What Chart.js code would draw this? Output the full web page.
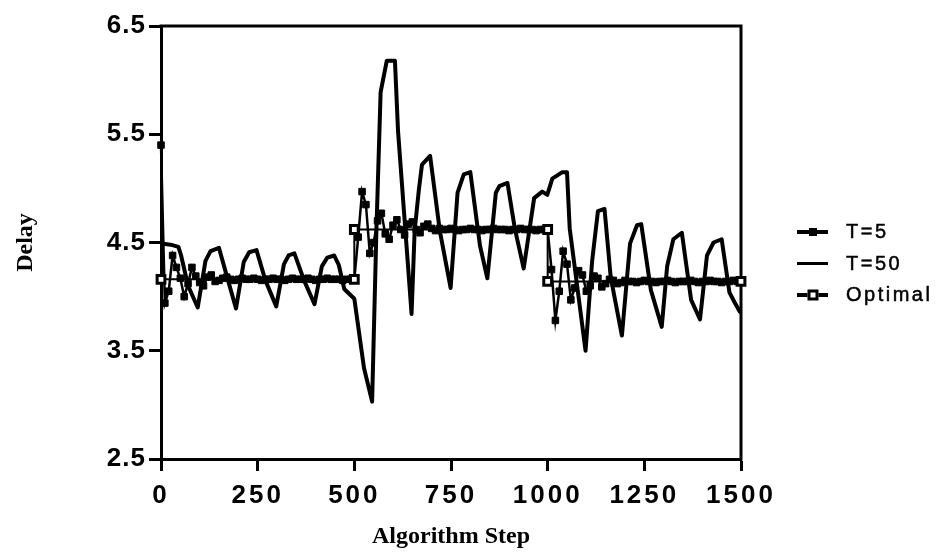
<!DOCTYPE html>
<html>
<head>
<meta charset="utf-8">
<title>Delay vs Algorithm Step</title>
<script src="https://cdn.jsdelivr.net/npm/chart.js@4.4.1/dist/chart.umd.min.js"></script>
<style>
  body { margin: 0; background: #fff; }
  #wrap { position: relative; width: 940px; height: 555px; }
  #chart { display: block; }
  #legend {
    position: absolute; left: 797px; top: 216px;
    font: 20px "Liberation Sans", Arial, sans-serif; letter-spacing: 2.5px; color: #000;
    -webkit-text-stroke: 0.5px #000;
  }
  .item { display: flex; align-items: center; height: 31.5px; white-space: nowrap; }
  .sample { position: relative; width: 31px; height: 12px; margin-right: 18px; flex: none; }
  .sample::before {
    content: ''; position: absolute; left: 0; right: 0; top: 50%;
    height: 3.5px; margin-top: -1.75px; background: #000;
  }
  .mark { position: absolute; left: 50%; top: 50%; transform: translate(-50%, -50%); box-sizing: border-box; }
  .mark.filled { width: 8px; height: 8px; background: #000; }
  .mark.open { width: 11px; height: 11px; border: 3px solid #000; background: #fff; }
</style>
</head>
<body>
<div id="wrap">
  <canvas id="chart" width="940" height="555"></canvas>
  <div id="legend"></div>
</div>
<script>
const xTicks = [0, 250, 500, 750, 1000, 1250, 1500];
const yTicks = [2.5, 3.5, 4.5, 5.5, 6.5];
const seriesNames = ['T=5', 'T=50', 'Optimal'];

// T=5 : one reading every 10 steps
const t5Steps = [
  0, 10, 20, 30, 40, 50, 60, 70, 80, 90, 100, 110, 120, 130, 140, 150, 160, 170, 180, 190,
  200, 210, 220, 230, 240, 250, 260, 270, 280, 290, 300, 310, 320, 330, 340, 350, 360, 370, 380, 390,
  400, 410, 420, 430, 440, 450, 460, 470, 480, 490, 500, 510, 520, 530, 540, 550, 560, 570, 580, 590,
  600, 610, 620, 630, 640, 650, 660, 670, 680, 690, 700, 710, 720, 730, 740, 750, 760, 770, 780, 790,
  800, 810, 820, 830, 840, 850, 860, 870, 880, 890, 900, 910, 920, 930, 940, 950, 960, 970, 980, 990,
  1000, 1010, 1020, 1030, 1040, 1050, 1060, 1070, 1080, 1090, 1100, 1110, 1120, 1130, 1140, 1150, 1160, 1170, 1180, 1190,
  1200, 1210, 1220, 1230, 1240, 1250, 1260, 1270, 1280, 1290, 1300, 1310, 1320, 1330, 1340, 1350, 1360, 1370, 1380, 1390,
  1400, 1410, 1420, 1430, 1440, 1450, 1460, 1470, 1480, 1490, 1500
];
const t5Delay = [
  5.40, 3.94, 4.05, 4.38, 4.27, 4.17, 4.00, 4.12, 4.27, 4.19, 4.13, 4.10, 4.18, 4.20, 4.14, 4.15, 4.17, 4.18, 4.16, 4.15,
  4.16, 4.17, 4.16, 4.16, 4.17, 4.16, 4.15, 4.16, 4.16, 4.17, 4.16, 4.16, 4.15, 4.16, 4.17, 4.16, 4.16, 4.16, 4.17, 4.16,
  4.15, 4.16, 4.16, 4.17, 4.16, 4.16, 4.16, 4.15, 4.16, 4.16, 4.16, 4.55, 4.97, 4.85, 4.40, 4.50, 4.70, 4.77, 4.58, 4.53,
  4.66, 4.71, 4.62, 4.57, 4.67, 4.69, 4.62, 4.59, 4.65, 4.67, 4.63, 4.61, 4.63, 4.62, 4.62, 4.63, 4.62, 4.61, 4.62, 4.62,
  4.63, 4.62, 4.62, 4.61, 4.62, 4.62, 4.63, 4.62, 4.62, 4.62, 4.61, 4.62, 4.62, 4.63, 4.62, 4.62, 4.62, 4.61, 4.62, 4.62,
  4.62, 4.25, 3.78, 4.05, 4.42, 4.30, 3.97, 4.08, 4.24, 4.20, 4.05, 4.10, 4.19, 4.17, 4.09, 4.12, 4.16, 4.15, 4.12, 4.13,
  4.15, 4.14, 4.14, 4.13, 4.14, 4.15, 4.14, 4.14, 4.13, 4.14, 4.14, 4.15, 4.14, 4.13, 4.14, 4.14, 4.14, 4.15, 4.14, 4.13,
  4.14, 4.14, 4.15, 4.14, 4.14, 4.13, 4.14, 4.14, 4.15, 4.14, 4.14
];

const t50Steps = [
  0, 25, 45, 52, 70, 95, 115, 128, 150, 171, 194, 214, 228, 247, 270, 298, 318, 330, 345, 370,
  397, 416, 430, 448, 460, 474, 500, 525, 546, 557, 568, 584, 605, 613, 648, 656, 667, 675, 696, 721,
  749, 767, 783, 800, 825, 844, 866, 875, 896, 915, 938, 965, 986, 999, 1012, 1038, 1050, 1057, 1098, 1115,
  1130, 1147, 1163, 1192, 1213, 1231, 1242, 1267, 1295, 1309, 1325, 1347, 1371, 1394, 1412, 1429, 1450, 1470, 1483, 1497
];
const t50Delay = [
  4.49, 4.48, 4.46, 4.38, 4.10, 3.90, 4.33, 4.42, 4.45, 4.18, 3.89, 4.32, 4.41, 4.43, 4.15, 3.91, 4.30, 4.38, 4.40, 4.15,
  3.93, 4.28, 4.36, 4.38, 4.29, 4.07, 3.98, 3.34, 3.03, 4.60, 5.89, 6.18, 6.18, 5.53, 3.84, 4.61, 4.99, 5.22, 5.30, 4.61,
  4.08, 4.96, 5.13, 5.15, 4.47, 4.17, 4.96, 5.02, 5.05, 4.63, 4.26, 4.91, 4.97, 4.94, 5.09, 5.15, 5.15, 4.63, 3.50, 4.33,
  4.79, 4.81, 4.18, 3.64, 4.49, 4.66, 4.67, 4.06, 3.72, 4.28, 4.53, 4.59, 3.97, 3.79, 4.38, 4.50, 4.53, 4.04, 3.95, 3.86
];

const optSteps = [0, 500, 500, 1000, 1000, 1500];
const optDelay = [4.16, 4.16, 4.62, 4.62, 4.14, 4.14];

const pairs = (xs, ys) => xs.map((x, i) => ({ x, y: ys[i] }));

// tick labels in the scan are widely spaced
const tickSpacing = { x: '3px', y: '1px' };
const spacedLabels = {
  id: 'spacedLabels',
  beforeDraw(chart) {
    Object.entries(tickSpacing).forEach(([id, gap]) => {
      const scale = chart.scales[id];
      if (!scale || scale.$spaced) return;
      const draw = scale.drawLabels;
      scale.drawLabels = function (area) {
        this.ctx.save();
        this.ctx.letterSpacing = gap;
        draw.call(this, area);
        this.ctx.restore();
      };
      scale.$spaced = true;
    });
  }
};

// top and right sides of the box
const frame = {
  id: 'frame',
  beforeDatasetsDraw(chart) {
    const { ctx, chartArea: { left, top, right, bottom } } = chart;
    ctx.save();
    ctx.strokeStyle = '#000';
    ctx.lineWidth = 3;
    ctx.beginPath();
    ctx.moveTo(left - 1.5, top);
    ctx.lineTo(right, top);
    ctx.lineTo(right, bottom + 1.5);
    ctx.stroke();
    ctx.restore();
  }
};

document.addEventListener('DOMContentLoaded', () => {
  const tickFont = { family: '"Liberation Sans", Arial, sans-serif', size: 26, weight: 'bold' };
  const titleFont = { family: '"Liberation Serif", "Times New Roman", serif', size: 24, weight: 'bold' };
  const grid = { display: true, drawOnChartArea: false, drawTicks: true, tickLength: 12, tickWidth: 3, tickColor: '#000', color: '#000' };
  const border = { display: true, color: '#000', width: 3 };

  const ctx = document.getElementById('chart').getContext('2d');
  new Chart(ctx, {
    type: 'line',
    data: {
      datasets: [
        {
          label: seriesNames[0],
          data: pairs(t5Steps, t5Delay),
          borderColor: '#000',
          borderWidth: 2.5,
          pointStyle: 'rect',
          pointRadius: 4.6,
          pointBackgroundColor: '#000',
          pointBorderColor: '#000',
          pointBorderWidth: 1,
          clip: false,
          order: 1
        },
        {
          label: seriesNames[1],
          data: pairs(t50Steps, t50Delay),
          borderColor: '#000',
          borderWidth: 4,
          borderJoinStyle: 'round',
          borderCapStyle: 'round',
          pointRadius: 0,
          order: 2
        },
        {
          label: seriesNames[2],
          data: pairs(optSteps, optDelay),
          borderColor: '#000',
          borderWidth: 2,
          pointStyle: 'rect',
          pointRadius: 5.5,
          pointBackgroundColor: '#fff',
          pointBorderColor: '#000',
          pointBorderWidth: 3,
          clip: false,
          order: 0
        }
      ]
    },
    options: {
      responsive: false,
      animation: false,
      layout: { padding: { top: 26, right: 199, bottom: 0, left: 0 } },
      plugins: { legend: { display: false }, tooltip: { enabled: false } },
      scales: {
        x: {
          type: 'linear',
          min: 0,
          max: 1500,
          afterBuildTicks: s => { s.ticks = xTicks.map(v => ({ value: v })); },
          afterFit: s => { s.height = 96; },
          ticks: { callback: v => String(v), color: '#000', font: tickFont, padding: 9, maxRotation: 0, autoSkip: false },
          grid,
          border,
          title: { display: true, text: 'Algorithm Step', color: '#000', font: titleFont, padding: { top: 0, bottom: 4 } }
        },
        y: {
          min: 2.5,
          max: 6.5,
          afterBuildTicks: s => { s.ticks = yTicks.map(v => ({ value: v })); },
          afterFit: s => { s.width = 161; },
          ticks: { callback: v => String(v), color: '#000', font: tickFont, padding: 3 },
          grid,
          border,
          title: { display: true, text: 'Delay', color: '#000', font: titleFont, padding: { top: 11, bottom: 0 } }
        }
      }
    },
    plugins: [spacedLabels, frame]
  });

  const legend = document.getElementById('legend');
  const marks = ['filled', '', 'open'];
  seriesNames.forEach((name, i) => {
    const row = document.createElement('div');
    row.className = 'item';
    const sample = document.createElement('span');
    sample.className = 'sample';
    if (marks[i]) {
      const m = document.createElement('i');
      m.className = 'mark ' + marks[i];
      sample.appendChild(m);
    }
    const text = document.createElement('span');
    text.textContent = name;
    row.appendChild(sample);
    row.appendChild(text);
    legend.appendChild(row);
  });
});
</script>
</body>
</html>
